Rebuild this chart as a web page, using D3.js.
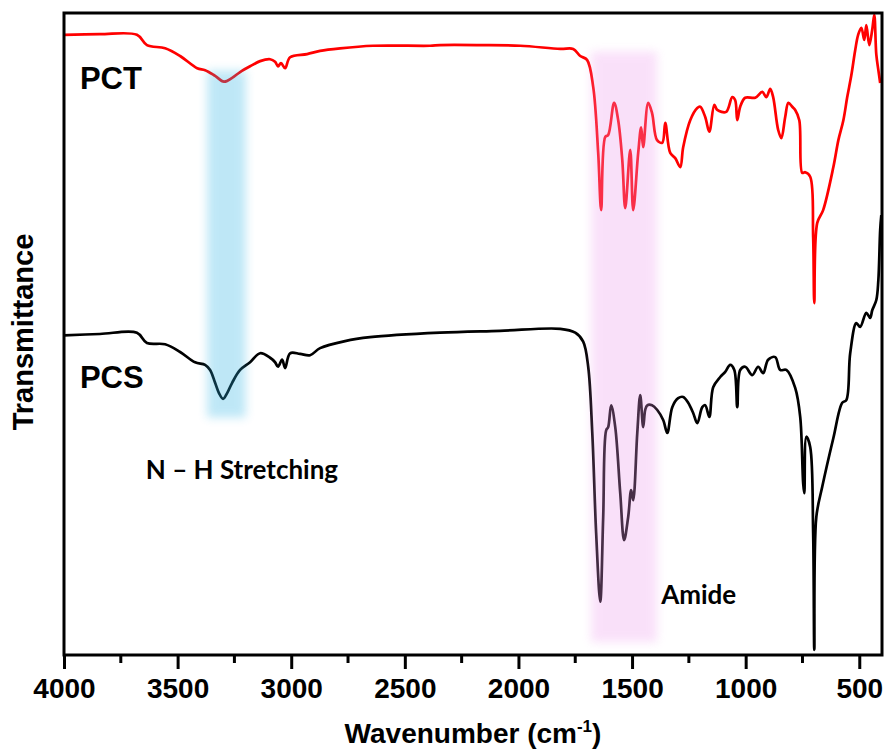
<!DOCTYPE html>
<html><head><meta charset="utf-8">
<script src="https://cdn.jsdelivr.net/npm/d3@7"></script>
<style>body{margin:0;background:#fff}svg{display:block}</style>
</head><body>
<svg id="c" width="890" height="753"></svg>
<script>
// ---- data (wavenumber cm-1, transmittance a.u.) ----
const pctWn = [4000,3842,3679,3635,3555,3489,3414,3379,3335,3296,3260,3225,3181,3137,3093,3071,3058,3045,3027,3005,2930,2873,2785,2640,2389,2345,2169,1992,1816,1759,1728,1698,1671,1649,1636,1618,1605,1579,1561,1543,1530,1508,1495,1473,1460,1451,1429,1412,1390,1367,1354,1332,1310,1288,1275,1244,1213,1200,1178,1160,1138,1125,1086,1059,1046,1037,1024,1002,958,927,909,892,879,857,843,826,812,795,782,764,751,738,716,703,698,685,659,614,592,570,553,535,518,505,491,478,469,456,443,434,425,416,408];
const pctT  = [96.6,96.7,96.6,95.0,94.5,93.3,91.4,91.1,90.2,89.3,89.9,90.8,91.7,92.5,92.8,92.4,91.7,92.2,91.4,93.1,93.6,94.1,94.5,94.9,94.9,95.0,95.0,94.9,94.4,94.4,93.3,92.7,88.5,78.2,69.3,80.7,81.0,86.0,83.3,77.1,69.6,78.7,69.3,78.2,82.2,79.1,86.0,84.4,80.2,79.8,82.9,78.2,77.4,76.0,79.1,83.3,85.2,85.4,83.8,81.5,85.7,84.9,84.6,86.9,86.4,83.3,85.4,86.8,86.8,87.7,86.9,88.2,86.9,81.8,80.5,83.8,86.0,85.4,84.9,83.3,75.1,75.2,74.5,65.1,54.8,67.3,69.3,76.0,80.2,83.3,86.9,90.3,94.2,96.6,97.7,95.8,98.1,95.0,97.4,99.7,93.5,91.1,89.1];
const pcsWn = [4000,3842,3679,3635,3555,3489,3423,3379,3357,3335,3318,3300,3282,3260,3225,3181,3137,3093,3071,3058,3040,3027,3005,2961,2917,2873,2763,2653,2345,2081,1816,1750,1715,1693,1675,1658,1640,1627,1614,1605,1592,1574,1552,1535,1517,1504,1495,1477,1464,1451,1442,1433,1412,1390,1363,1345,1323,1297,1275,1253,1231,1213,1191,1178,1160,1143,1112,1090,1068,1050,1037,1024,1002,971,945,923,901,870,848,821,782,760,747,742,733,716,703,698,689,663,614,575,557,540,513,496,469,452,443,425,416,408,403];
const pcsT  = [49.8,50.0,50.2,48.6,48.4,47.2,45.6,45.2,44.4,42.4,40.8,39.9,40.8,42.4,44.4,45.6,47.0,46.3,45.6,44.9,46.0,44.7,47.0,46.9,46.7,47.8,48.9,49.5,50.2,50.5,50.8,50.2,48.8,44.9,34.6,19.0,8.3,21.5,35.0,35.5,38.9,35.5,25.2,17.9,21.5,25.7,24.1,34.6,40.5,35.5,38.2,38.9,38.9,38.2,36.6,34.6,38.6,40.0,40.2,39.3,37.7,36.1,38.6,38.9,37.1,41.7,43.3,44.1,45.2,44.4,38.6,44.4,44.9,43.6,44.9,43.9,46.0,46.4,44.4,44.4,41.6,37.1,26.8,25.2,34.0,32.4,19.0,0.8,21.5,26.2,33.8,39.3,39.7,47.0,51.7,51.1,53.3,52.5,53.7,55.3,58.4,66.2,68.5];
const majorTicks = [4000,3500,3000,2500,2000,1500,1000,500];
const minorTicks = [3750,3250,2750,2250,1750,1250,750];
const bands = [{from:3370,to:3200,top:91,bottom:37,color:"rgb(42,178,228)"},{from:1680,to:1390,top:94,bottom:2,color:"rgb(238,155,238)"}];
const seriesLabels = [{text:"PCT",wn:3930,t:88.1},{text:"PCS",wn:3930,t:41.6}];
const notes = [{text:"N \u2013 H Stretching",wn:3640,t:27.4},{text:"Amide",wn:1372,t:7.9}];

const svg = d3.select("#c");
const L=64,R=882,T=13,B=655;
const x = d3.scaleLinear().domain([4000,400]).range([L,R]);
const y = d3.scaleLinear().domain([0,100]).range([B,T]);

const defs = svg.append("defs");
defs.append("clipPath").attr("id","clip").append("rect").attr("x",L).attr("y",T).attr("width",R-L).attr("height",B-T);
defs.append("filter").attr("id","blur").attr("x","-50%").attr("y","-20%").attr("width","200%").attr("height","140%")
  .append("feGaussianBlur").attr("stdDeviation",5);

const line = d3.line().x(d=>x(d[0])).y(d=>y(d[1])).curve(d3.curveCatmullRom.alpha(0.5));
const g = svg.append("g").attr("clip-path","url(#clip)");
g.append("path").datum(pctWn.map((w,i)=>[w,pctT[i]])).attr("d",line).attr("fill","none").attr("stroke","#ff0000").attr("stroke-width",2.7).attr("stroke-linejoin","round");
g.append("path").datum(pcsWn.map((w,i)=>[w,pcsT[i]])).attr("d",line).attr("fill","none").attr("stroke","#000").attr("stroke-width",2.7).attr("stroke-linejoin","round");

// highlight bands overlaid
svg.append("g").selectAll("rect").data(bands).join("rect")
  .attr("x",d=>x(d.from)).attr("width",d=>x(d.to)-x(d.from))
  .attr("y",d=>y(d.top)).attr("height",d=>y(d.bottom)-y(d.top))
  .attr("fill",d=>d.color).attr("opacity",0.3).attr("filter","url(#blur)");

// frame
svg.append("rect").attr("x",L).attr("y",T).attr("width",R-L).attr("height",B-T)
  .attr("fill","none").attr("stroke","#000").attr("stroke-width",3);

// axis
const ax = svg.append("g").attr("transform",`translate(0,${B})`)
  .call(d3.axisBottom(x).tickValues(majorTicks).tickSize(14).tickSizeOuter(0).tickPadding(8).tickFormat(d3.format("d")));
ax.select(".domain").remove();
ax.selectAll(".tick line").attr("stroke","#000").attr("stroke-width",3);
ax.selectAll(".tick text").attr("font-family","'Liberation Sans',Arial,sans-serif").attr("font-weight","bold").attr("font-size",28).attr("fill","#000").attr("dy","0.75em");
svg.append("g").selectAll("line").data(minorTicks).join("line")
  .attr("x1",d=>x(d)).attr("x2",d=>x(d)).attr("y1",B).attr("y2",B+8).attr("stroke","#000").attr("stroke-width",3);

// axis titles
const xt = svg.append("text").attr("x",(L+R)/2).attr("y",743).attr("text-anchor","middle")
  .attr("font-family","'Liberation Sans',Arial,sans-serif").attr("font-weight","bold").attr("font-size",28);
xt.append("tspan").text("Wavenumber (cm");
xt.append("tspan").text("-1").attr("font-size",17).attr("dy",-11);
xt.append("tspan").text(")").attr("dy",11);
svg.append("text").attr("transform","translate(33,332) rotate(-90)").attr("text-anchor","middle")
  .attr("font-family","'Liberation Sans',Arial,sans-serif").attr("font-weight","bold").attr("font-size",29).text("Transmittance");

// series labels
svg.append("g").selectAll("text").data(seriesLabels).join("text")
  .attr("x",d=>x(d.wn)).attr("y",d=>y(d.t)).text(d=>d.text)
  .attr("font-family","'Liberation Sans',Arial,sans-serif").attr("font-weight","bold").attr("font-size",31);
svg.append("g").selectAll("text").data(notes).join("text")
  .attr("x",d=>x(d.wn)).attr("y",d=>y(d.t)).text(d=>d.text)
  .attr("font-family","Lato,'Open Sans',sans-serif").attr("font-weight","bold").attr("font-size",26);
</script>
</body></html>
